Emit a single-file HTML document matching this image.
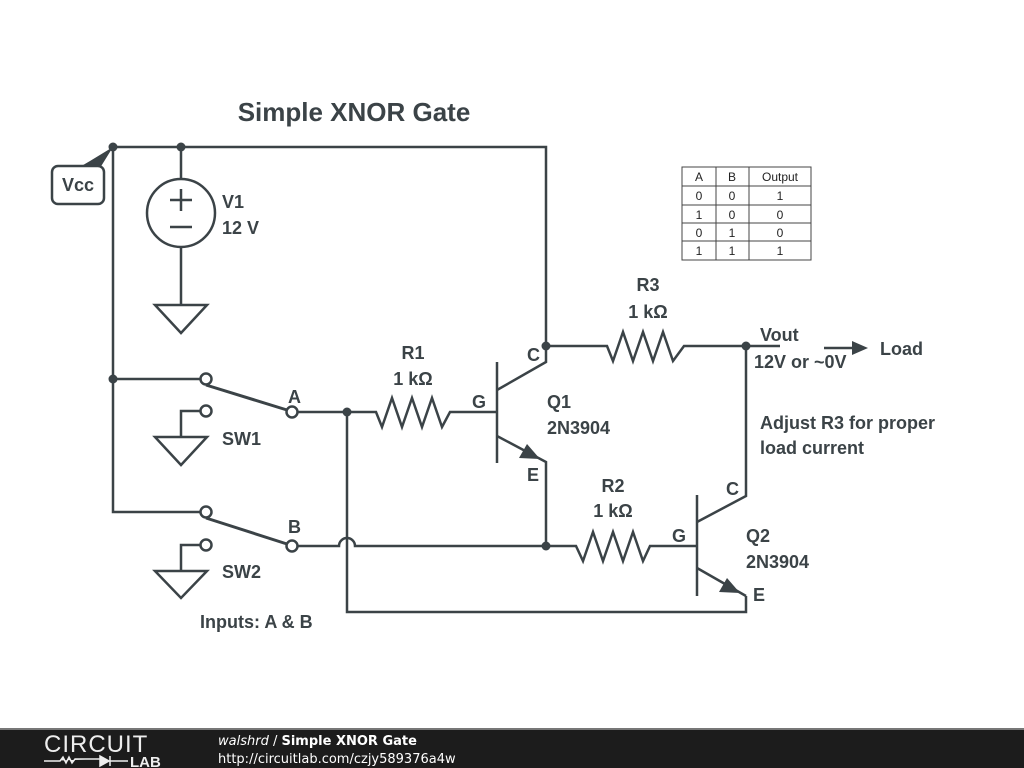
<!DOCTYPE html>
<html><head><meta charset="utf-8"><style>
body{margin:0;width:1024px;height:768px;background:#fff;overflow:hidden;font-family:"Liberation Sans",sans-serif}
svg{position:absolute;left:0;top:0}
svg text{font-family:"Liberation Sans",Arial,sans-serif}
svg text.dj{font-family:"DejaVu Sans",sans-serif}
</style></head><body>
<svg width="1024" height="768" viewBox="0 0 1024 768">
<g stroke="#3b4347" stroke-width="2.5" fill="none" stroke-linejoin="miter">
<path d="M113 147H546V346"/>
<path d="M113 147V512H200"/>
<path d="M113 379H200"/>
<path d="M181 147V179M181 247V305"/>
<circle cx="181" cy="213" r="34"/>
<path d="M170 200h22M181 189v22M170 227h22"/>
<path d="M155 305H207L181 333Z"/>
<circle cx="206" cy="379" r="5.5"/>
<path d="M206 385L287 410" stroke-width="3"/>
<circle cx="292" cy="412" r="5.5"/>
<circle cx="206" cy="411" r="5.5"/>
<path d="M200 411H181V437"/>
<path d="M155 437H207L181 465Z"/>
<circle cx="206" cy="512" r="5.5"/>
<path d="M206 518L287 544" stroke-width="3"/>
<circle cx="292" cy="546" r="5.5"/>
<circle cx="206" cy="545" r="5.5"/>
<path d="M200 545H181V571"/>
<path d="M155 571H207L181 598Z"/>
<path d="M298 412H376L382 427L392 398L402 427L412 398L422 427L432 398L442 427L450 412H496"/>
<path d="M347 412V612H746V596"/>
<path d="M298 546H339A8 8 0 0 1 355 546H576L583 561L593 532L603 561L613 532L623 561L633 532L643 561L650 546H697"/>
<path d="M497 362V463"/>
<path d="M497 390L546 362V346"/>
<path d="M497 436L546 462V546"/>
<path d="M546 346H607L613 361L623 332L633 361L643 332L653 361L663 332L673 361L684 346H780"/>
<path d="M746 346V496L697 522"/>
<path d="M697 495V596"/>
<path d="M697 568L746 596"/>
<path d="M824 348H858"/>
</g>
<g fill="#3b4347">
<circle cx="113" cy="147" r="4.5"/><circle cx="181" cy="147" r="4.5"/>
<circle cx="113" cy="379" r="4.5"/><circle cx="347" cy="412" r="4.5"/>
<circle cx="546" cy="346" r="4.5"/><circle cx="546" cy="546" r="4.5"/>
<circle cx="746" cy="346" r="4.5"/>
<path d="M540 459L519 458L527 444Z"/>
<path d="M740 593L719 592L727 578Z"/>
<path d="M868 348L852 341V355Z"/>
<path d="M78 168L90 161L113 147L100 168Z"/>
</g>
<rect x="52" y="166" width="52" height="38" rx="6" fill="#fff" stroke="#3b4347" stroke-width="2.5"/>
<g fill="#3b4347" font-weight="bold" font-size="18">
<text x="354" y="121" font-size="26" text-anchor="middle">Simple XNOR Gate</text>
<text x="78" y="191" text-anchor="middle">Vcc</text>
<text x="222" y="208">V1</text><text x="222" y="234">12 V</text>
<text x="413" y="359" text-anchor="middle">R1</text><text x="413" y="385" text-anchor="middle">1 kΩ</text>
<text x="648" y="291" text-anchor="middle">R3</text><text x="648" y="318" text-anchor="middle">1 kΩ</text>
<text x="613" y="492" text-anchor="middle">R2</text><text x="613" y="517" text-anchor="middle">1 kΩ</text>
<text x="288" y="403">A</text><text x="288" y="533">B</text>
<text x="222" y="445">SW1</text><text x="222" y="578">SW2</text>
<text x="472" y="408">G</text><text x="672" y="542">G</text>
<text x="527" y="361">C</text><text x="726" y="495">C</text>
<text x="527" y="481">E</text><text x="753" y="601">E</text>
<text x="547" y="408">Q1</text><text x="547" y="434">2N3904</text>
<text x="746" y="542">Q2</text><text x="746" y="568">2N3904</text>
<text x="760" y="341">Vout</text><text x="754" y="368">12V or ~0V</text>
<text x="880" y="355">Load</text>
<text x="760" y="429">Adjust R3 for proper</text><text x="760" y="454">load current</text>
<text x="200" y="628">Inputs: A &amp; B</text>
</g>
<g stroke="#444" stroke-width="1" fill="none">
<rect x="682" y="167" width="129" height="93"/>
<path d="M716 167V260M749 167V260M682 186H811M682 205H811M682 223H811M682 241H811"/>
</g>
<g font-size="12" fill="#222" text-anchor="middle">
<text x="699" y="181">A</text><text x="732" y="181">B</text><text x="780" y="181">Output</text>
<text x="699" y="200">0</text><text x="732" y="200">0</text><text x="780" y="200">1</text>
<text x="699" y="219">1</text><text x="732" y="219">0</text><text x="780" y="219">0</text>
<text x="699" y="237">0</text><text x="732" y="237">1</text><text x="780" y="237">0</text>
<text x="699" y="255">1</text><text x="732" y="255">1</text><text x="780" y="255">1</text>
</g>
<rect x="0" y="729" width="1024" height="39" fill="#1c1c1c"/>
<rect x="0" y="728" width="1024" height="2" fill="#777"/>
<text x="44" y="752" font-size="24" fill="#eee" letter-spacing="1">CIRCUIT</text>
<path d="M44 761H60l3-4 3 6 3-6 3 6 3-4H100M100 756v10l9-5zM110 756v10M110 761H128" stroke="#eee" stroke-width="1.5" fill="#eee"/>
<text x="130" y="767" font-size="15" font-weight="bold" fill="#eee">LAB</text>
<text class="dj" x="218" y="745" font-size="13" fill="#fff"><tspan font-style="italic">walshrd</tspan> / <tspan font-weight="bold">Simple XNOR Gate</tspan></text>
<text class="dj" x="218" y="763" font-size="13" fill="#fff">http://circuitlab.com/czjy589376a4w</text>
</svg>
</body></html>
